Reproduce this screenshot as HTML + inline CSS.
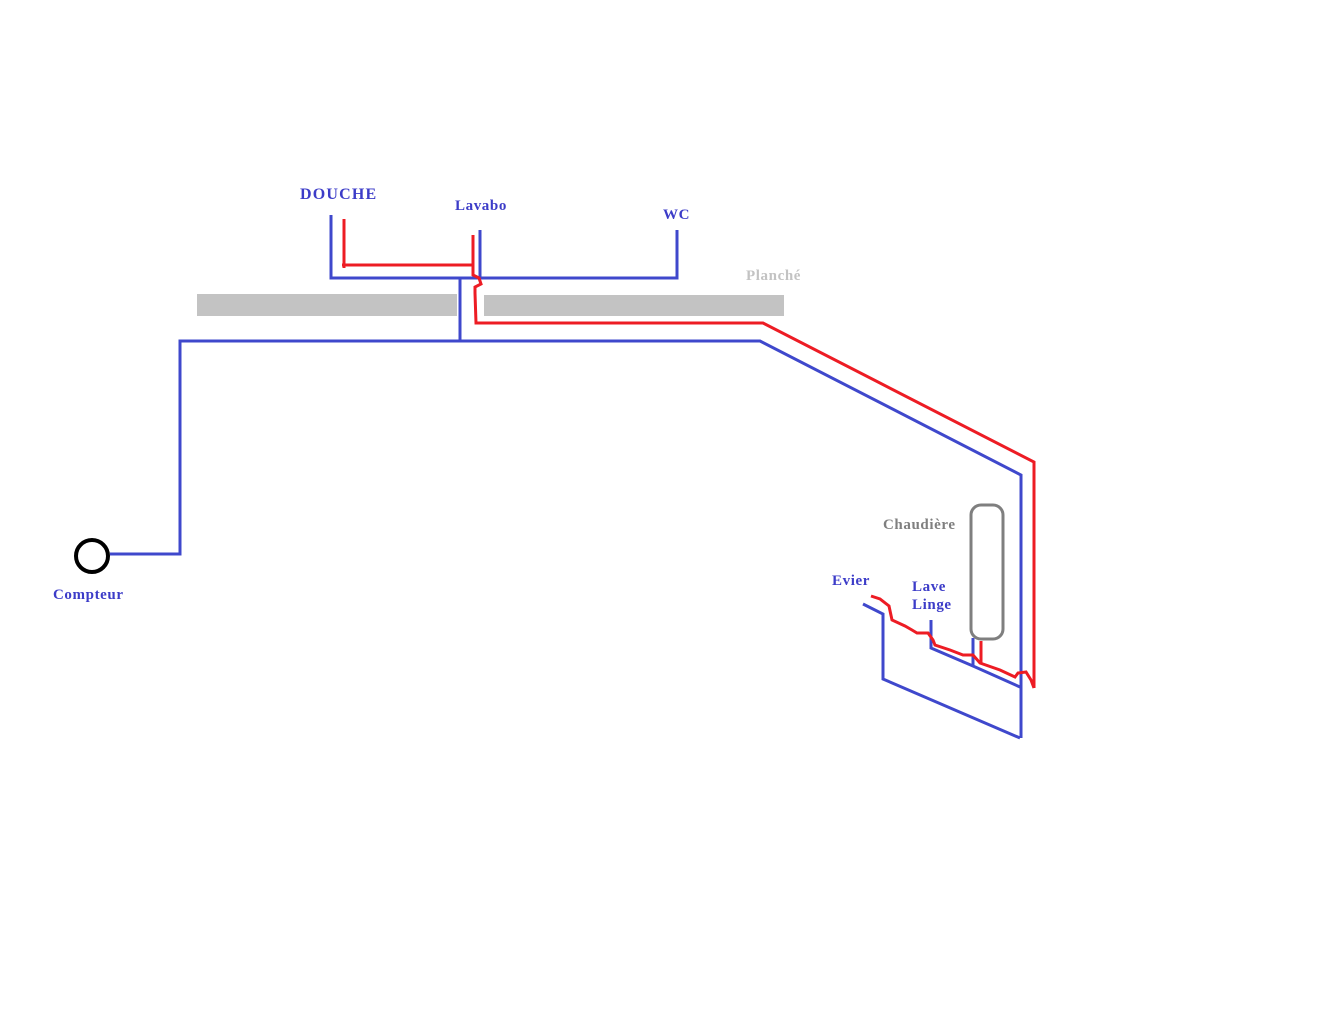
<!DOCTYPE html>
<html><head><style>
body{margin:0;background:#fff;}
svg{display:block}
text{font-family:"Liberation Serif",serif;font-weight:bold;font-size:15px;fill:#3c3cc8;letter-spacing:0.6px}
</style></head><body>
<svg width="1321" height="1020" viewBox="0 0 1321 1020">
<rect x="197" y="294" width="260" height="22" fill="#c3c3c3"/>
<rect x="484" y="295" width="300" height="21" fill="#c3c3c3"/>
<g fill="none" stroke="#3f48cc" stroke-width="3">
<polyline points="331,215 331,278 677,278 677,230"/>
<line x1="480" y1="230" x2="480" y2="278"/>
<line x1="460" y1="278" x2="460" y2="342"/>
<polyline points="110,554 180,554 180,341 760,341 1021,475 1021,738"/>
<polyline points="863,604 883,614 883,679 1020,738"/>
<polyline points="931,620 931,648 973,666 1020,687"/>
<line x1="973" y1="638" x2="973" y2="666"/>
</g>
<g fill="none" stroke="#ed1c24" stroke-width="3">
<line x1="344" y1="219" x2="344" y2="268"/>
<line x1="342" y1="265" x2="473" y2="265"/>
<polyline points="473,235 473,275 479,278 481,284 475,287 475,293 476,323 763,323 1034,462 1034,688"/>
<polyline points="871,596 880,599 889,606 892,620 905,626 912,630 917,633 928,633 933,640 935,645 950,650 963,655 973,655 980,663 1000,670 1015,677 1018,673 1026,672 1031,680 1034,688"/>
<line x1="981" y1="641" x2="981" y2="663"/>
</g>
<rect x="971" y="505" width="32" height="134" rx="10" fill="none" stroke="#7f7f7f" stroke-width="3"/>
<circle cx="92" cy="556" r="16" fill="none" stroke="#000" stroke-width="4"/>
<text x="300" y="199" style="font-size:16px;letter-spacing:1.2px">DOUCHE</text>
<text x="455" y="210">Lavabo</text>
<text x="663" y="219">WC</text>
<text x="746" y="280" style="fill:#c3c3c3">Planché</text>
<text x="883" y="529" style="fill:#7f7f7f">Chaudière</text>
<text x="832" y="585">Evier</text>
<text x="912" y="591">Lave</text>
<text x="912" y="609">Linge</text>
<text x="53" y="599">Compteur</text>
</svg>
</body></html>
